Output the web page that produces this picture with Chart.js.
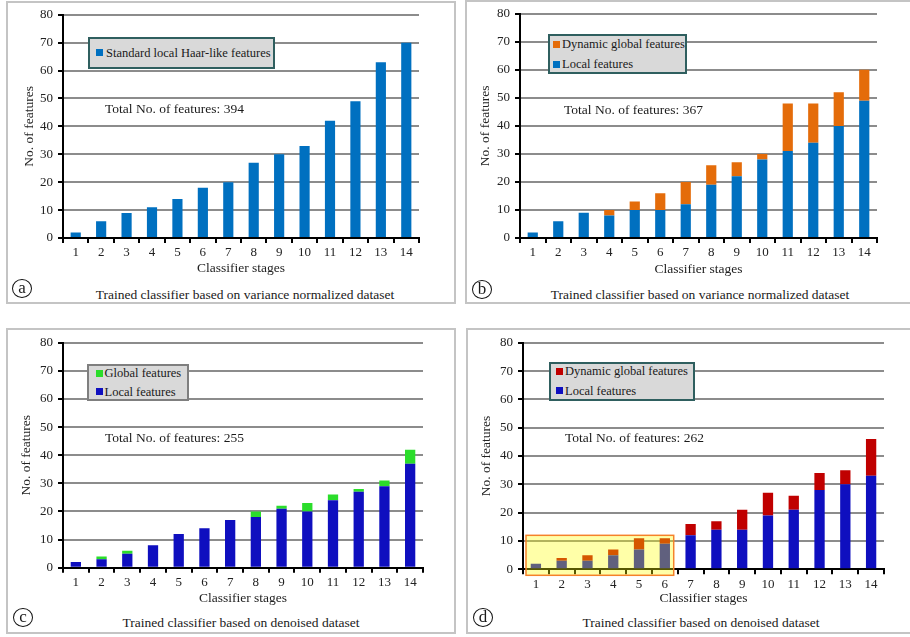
<!DOCTYPE html>
<html><head><meta charset="utf-8">
<script src="https://cdn.jsdelivr.net/npm/chart.js@4/dist/chart.umd.min.js"></script>
<style>
html,body{margin:0;padding:0;background:#fff;}
body{width:910px;height:637px;position:relative;overflow:hidden;font-family:'Liberation Serif','Times New Roman',serif;color:#1a1a1a;}
.panel{position:absolute;box-sizing:border-box;border:2px solid #c4c4c4;}
canvas{position:absolute;}
.txt{position:absolute;white-space:nowrap;font-size:13.5px;line-height:16px;}
.cap{transform:translateX(-50%);}
.legend{position:absolute;box-sizing:border-box;background:#d9d9d9;border:2px solid #2f5f5f;}
.item{position:absolute;white-space:nowrap;font-size:12.5px;line-height:14px;}
.mk{position:absolute;width:7px;height:7px;}
.circ{position:absolute;box-sizing:border-box;width:20px;height:19px;border:1.3px solid #111;border-radius:50%;font-size:17px;line-height:15px;text-align:center;}
</style></head>
<body>
<div class="panel" style="left:6px;top:1px;width:450px;height:303px;"></div>
<div class="panel" style="left:465px;top:0px;width:460px;height:304px;"></div>
<div class="panel" style="left:6px;top:328px;width:450px;height:306px;"></div>
<div class="panel" style="left:466px;top:328px;width:460px;height:306px;"></div>

<canvas id="ca"></canvas>
<canvas id="cb"></canvas>
<canvas id="cc"></canvas>
<canvas id="cd"></canvas>

<!-- legends -->
<div class="legend" style="left:88px;top:37px;width:187px;height:32px;"></div>
<div class="mk" style="left:96px;top:49px;background:#0070c0;"></div>
<div class="item" style="left:106px;top:45.5px;">Standard local Haar-like features</div>

<div class="legend" style="left:548px;top:34px;width:139px;height:40px;"></div>
<div class="mk" style="left:553px;top:40.5px;background:#e46c0a;"></div>
<div class="item" style="left:562px;top:37px;">Dynamic global features</div>
<div class="mk" style="left:553px;top:60.5px;background:#0070c0;"></div>
<div class="item" style="left:562px;top:57px;">Local features</div>

<div class="legend" style="left:87px;top:364px;width:102px;height:37px;border-color:#7f7f7f;"></div>
<div class="mk" style="left:96px;top:370px;background:#2bdd2b;"></div>
<div class="item" style="left:104.5px;top:366.3px;">Global features</div>
<div class="mk" style="left:96px;top:388.2px;background:#0f0fbf;"></div>
<div class="item" style="left:104.5px;top:384.7px;">Local features</div>

<div class="legend" style="left:549px;top:362px;width:146px;height:39px;"></div>
<div class="mk" style="left:556px;top:367.5px;background:#c00000;"></div>
<div class="item" style="left:565px;top:364px;">Dynamic global features</div>
<div class="mk" style="left:556px;top:387.2px;background:#0f0fbf;"></div>
<div class="item" style="left:565px;top:383.7px;">Local features</div>

<!-- totals -->
<div class="txt" id="ta" style="left:105px;top:101px;"></div>
<div class="txt" id="tb" style="left:564px;top:102px;"></div>
<div class="txt" id="tc" style="left:105px;top:430px;"></div>
<div class="txt" id="td" style="left:565px;top:430px;"></div>

<!-- captions -->
<div class="txt cap" style="left:245px;top:287px;">Trained classifier based on variance normalized dataset</div>
<div class="txt cap" style="left:700px;top:287px;">Trained classifier based on variance normalized dataset</div>
<div class="txt cap" style="left:241px;top:615px;">Trained classifier based on denoised dataset</div>
<div class="txt cap" style="left:701px;top:615px;">Trained classifier based on denoised dataset</div>

<div class="circ" style="left:12px;top:278.5px;">a</div>
<div class="circ" style="left:472px;top:279.5px;">b</div>
<div class="circ" style="left:13px;top:608px;">c</div>
<div class="circ" style="left:473px;top:608px;">d</div>

<script>
const stages = ['1','2','3','4','5','6','7','8','9','10','11','12','13','14'];
const yTicks = [0,10,20,30,40,50,60,70,80];

const aLocal   = [2,6,9,11,14,18,20,27,30,33,42,49,63,70];

const bLocal   = [2,6,9,8,10,10,12,19,22,28,31,34,40,49];
const bDynamic = [0,0,0,2,3,6,8,7,5,2,17,14,12,11];

const cLocal   = [2,3,5,8,12,14,17,18,21,20,24,27,29,37];
const cGlobal  = [0,1,1,0,0,0,0,2,1,3,2,1,2,5];

const dLocal   = [2,3,3,5,7,9,12,14,14,19,21,28,30,33];
const dDynamic = [0,1,2,2,4,2,4,3,7,8,5,6,5,13];

const dHighlightStages = [1,6];
const dHighlightTop = 12;

const sum = arr => arr.reduce((s,v)=>s+v,0);
document.getElementById('ta').textContent = 'Total No. of features: ' + sum(aLocal);
document.getElementById('tb').textContent = 'Total No. of features: ' + (sum(bLocal)+sum(bDynamic));
document.getElementById('tc').textContent = 'Total No. of features: ' + (sum(cLocal)+sum(cGlobal));
document.getElementById('td').textContent = 'Total No. of features: ' + (sum(dLocal)+sum(dDynamic));

const FONT = "'Liberation Serif','Times New Roman',serif";

function ds(label, data, color){
  return {label, data, backgroundColor: color, borderWidth: 0, barPercentage: 0.4, categoryPercentage: 1.0};
}

function build(id, g, datasets, plugins){
  const cv = document.getElementById(id);
  cv.width = g.cw; cv.height = g.ch;
  cv.style.left = g.cx + 'px'; cv.style.top = g.cy + 'px';
  const xH = 40;
  const lh = 13.5 * 1.2;
  new Chart(cv, {
    type: 'bar',
    data: {labels: stages, datasets},
    options: {
      responsive: false, animation: false, devicePixelRatio: 1,
      layout: {padding: {left: 0, top: g.T - g.cy, right: g.cx + g.cw - g.R, bottom: g.cy + g.ch - g.B - xH}},
      plugins: {legend: {display: false}, tooltip: {enabled: false}},
      scales: {
        x: {
          stacked: true,
          afterFit(s){ s.height = xH; },
          grid: {drawOnChartArea: false, drawTicks: true, tickLength: 5, color: '#000', lineWidth: 2, offset: true},
          border: {display: true, color: '#000', width: 2},
          ticks: {font: {family: FONT, size: 13}, color: '#222', padding: 2, maxRotation: 0, autoSkip: false},
          title: {display: true, text: 'Classifier stages', font: {family: FONT, size: 13.5}, color: '#222',
                  padding: {top: 0, bottom: g.B + xH - g.xt - lh/2}}
        },
        y: {
          stacked: true, min: yTicks[0], max: yTicks[yTicks.length-1],
          afterFit(s){ s.width = g.L - g.cx; },
          afterBuildTicks(s){ s.ticks = yTicks.map(v => ({value: v})); },
          ticks: {font: {family: FONT, size: 13}, color: '#222', padding: 5},
          grid: {color: '#8c8c8c', lineWidth: 2, tickColor: '#000', tickLength: 5, tickWidth: 2},
          border: {display: true, color: '#000', width: 2},
          title: {display: true, text: 'No. of features', font: {family: FONT, size: 13.5}, color: '#222',
                  padding: {top: g.yt - g.cx - lh/2, bottom: 0}}
        }
      }
    },
    plugins: plugins || []
  });
}

const highlightPlugin = {
  id: 'highlight',
  afterDraw(chart){
    const xs = chart.scales.x, ys = chart.scales.y;
    const half = (xs.getPixelForValue(1) - xs.getPixelForValue(0)) / 2;
    const x0 = xs.getPixelForValue(dHighlightStages[0]-1) - half + 3;
    const x1 = xs.getPixelForValue(dHighlightStages[1]-1) + half - 4;
    const y0 = ys.getPixelForValue(dHighlightTop);
    const y1 = ys.getPixelForValue(0) + 6;
    const ctx = chart.ctx;
    ctx.save();
    ctx.fillStyle = 'rgba(255,255,0,0.34)';
    ctx.fillRect(x0, y0, x1-x0, y1-y0);
    ctx.strokeStyle = '#f5822a';
    ctx.lineWidth = 1.5;
    ctx.strokeRect(x0, y0, x1-x0, y1-y0);
    ctx.restore();
  }
};

build('ca', {cx:7, cy:2, cw:448, ch:282, L:63, T:10, R:419, B:238, yt:29, xt:268},
  [ds('Standard local Haar-like features', aLocal, '#0070c0')]);

build('cb', {cx:466, cy:1, cw:444, ch:283, L:520, T:9, R:877, B:238, yt:485.7, xt:269},
  [ds('Local features', bLocal, '#0070c0'), ds('Dynamic global features', bDynamic, '#e46c0a')]);

build('cc', {cx:7, cy:330, cw:448, ch:282, L:63, T:339.3, R:423, B:567.7, yt:26.7, xt:598},
  [ds('Local features', cLocal, '#0f0fbf'), ds('Global features', cGlobal, '#2bdd2b')]);

build('cd', {cx:467, cy:330, cw:443, ch:282, L:523, T:338.3, R:884, B:569.3, yt:486.7, xt:598},
  [ds('Local features', dLocal, '#0f0fbf'), ds('Dynamic global features', dDynamic, '#c00000')],
  [highlightPlugin]);
</script>
</body></html>
